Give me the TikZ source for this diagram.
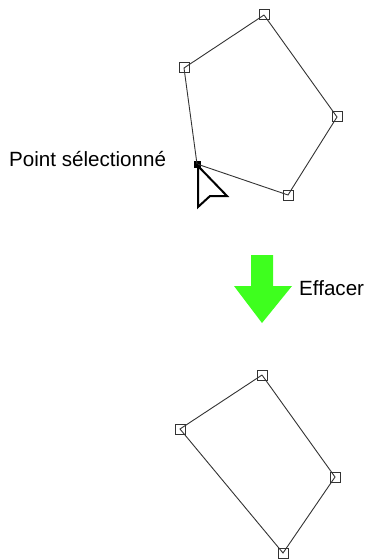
\documentclass[tikz,border=0pt]{standalone}
\usepackage{fontspec}
\setmainfont{Liberation Sans}
\usepackage{xcolor}
\usepackage{tikz}
\usetikzlibrary{positioning,calc}
\definecolor{effgreen}{RGB}{62,255,30}
\tikzset{
  vtx/.style  ={rectangle, draw=black!80, line width=1pt, fill=none,
                minimum size=10pt, inner sep=0pt},
  sel/.style  ={rectangle, fill=black, minimum size=7pt, inner sep=0pt},
  side/.style ={draw=black!80, line width=0.9pt},
  lbl/.style  ={font=\fontsize{20.6}{24}\selectfont, inner sep=0pt},
  cursor/.style={draw=black, line width=2pt, fill=white, line join=miter},
}
\begin{document}
\begin{tikzpicture}[x=1pt, y=-1pt]
  \useasboundingbox (0,0) rectangle (366,559);

  % polygon before deleting
  \node[vtx] (a1) at (264,15) {};
  \node[vtx] (a2) at (337,117) {};
  \node[vtx] (a3) at (288,195) {};
  \node[sel] (a4) at (197,164) {};
  \node[vtx] (a5) at (184,68) {};
  \draw[side] (a1.center) -- (a2.center) -- (a3.center) -- (a4.center)
    -- (a5.center) -- (a1.center);

  \node[lbl, anchor=base west] (pt) at (9,166) {Point sélectionné};

  % mouse pointer
  \draw[cursor] (198,166) -- (198,207) -- (210,196) -- (227,196) -- cycle;

  % green arrow
  \fill[effgreen] (251,255) -- (273,255) -- (273,286) -- (292,286)
    -- (262,323) -- (234,286) -- (251,286) -- cycle;
  \node[lbl, anchor=base west] (eff) at (299,295) {Effacer};

  % polygon after deleting
  \node[vtx] (b1) at (262,375) {};
  \node[vtx] (b2) at (335,477) {};
  \node[vtx] (b3) at (283,553) {};
  \node[vtx] (b4) at (180,429) {};
  \draw[side] (b1.center) -- (b2.center) -- (b3.center) -- (b4.center)
    -- (b1.center);
\end{tikzpicture}
\end{document}
